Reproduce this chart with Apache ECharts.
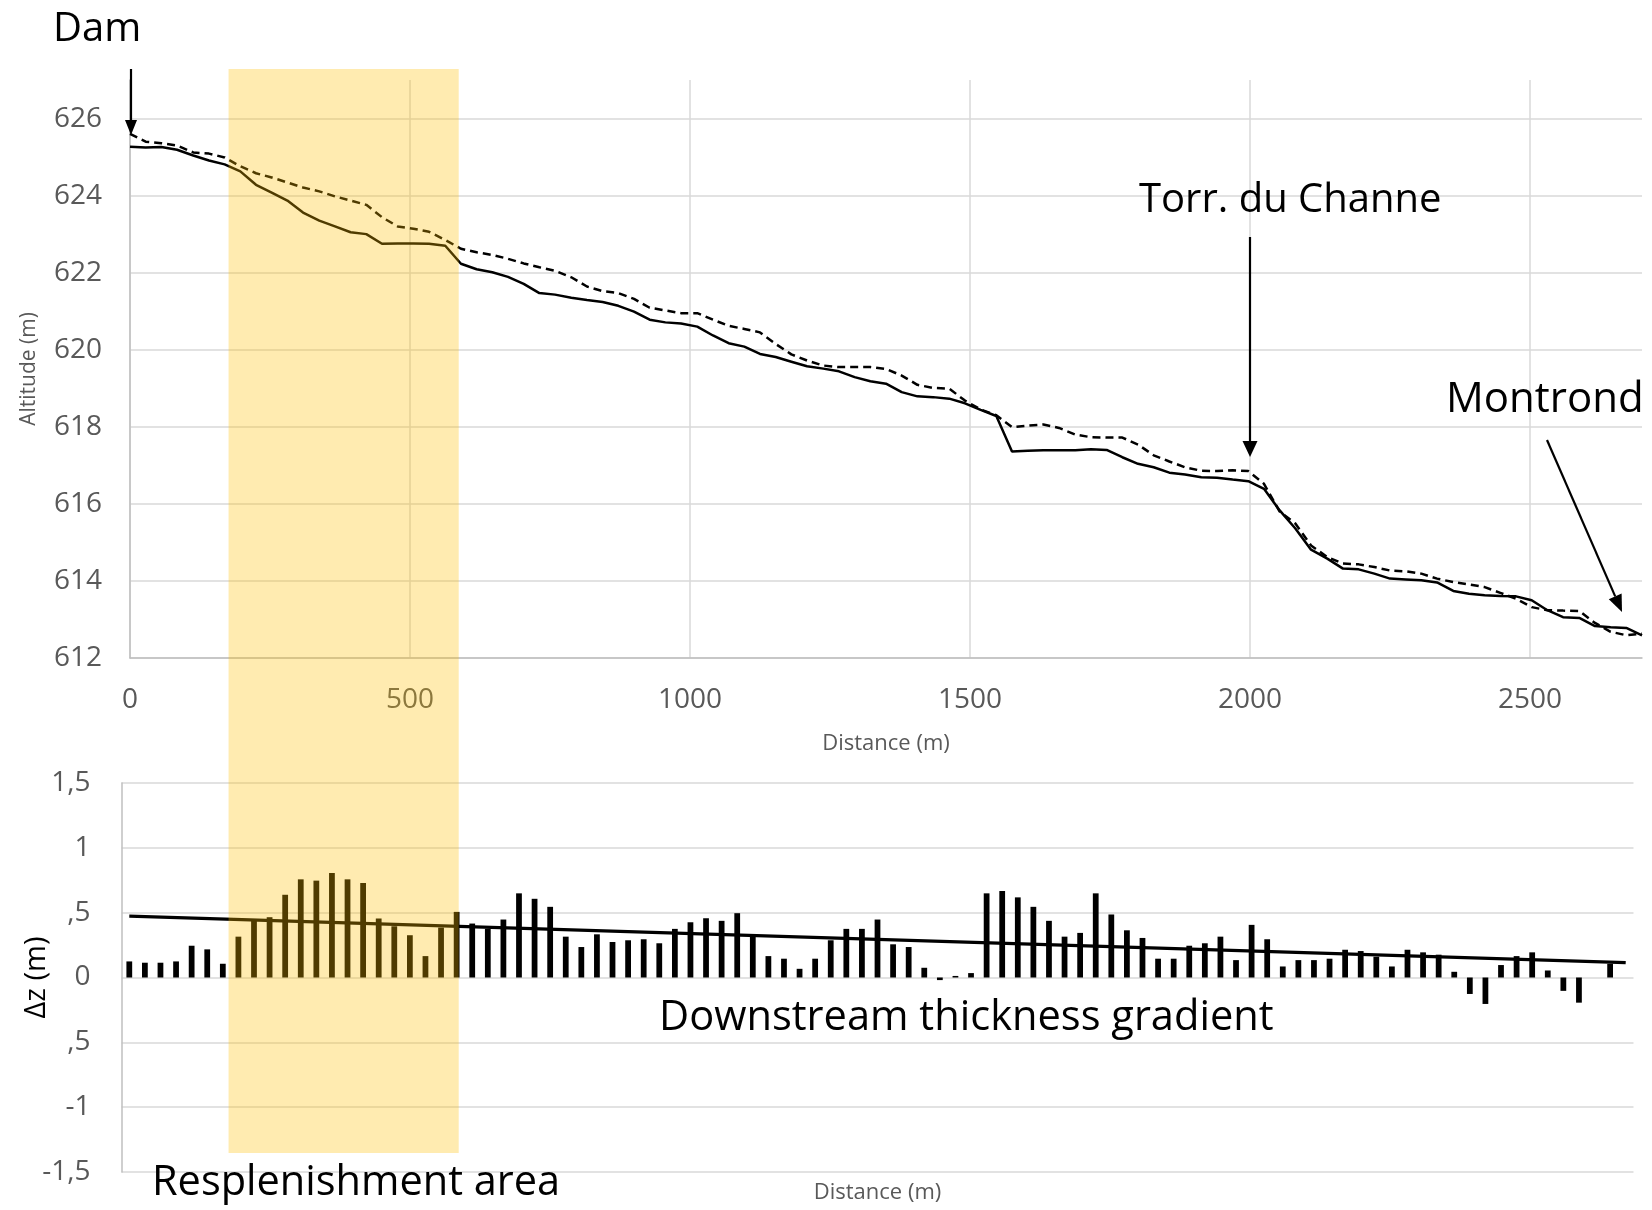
<!DOCTYPE html>
<html>
<head>
<meta charset="utf-8">
<script src="https://cdn.jsdelivr.net/npm/echarts@6/dist/echarts.min.js"></script>
<style>
  html, body { margin: 0; padding: 0; background: #fff; }
  #chart { width: 1652px; height: 1210px; }
</style>
</head>
<body>
<div id="chart"></div>
<script>
// survey stations along the reach (m)
const stations = [
  0, 28, 56, 84, 113, 141, 169, 197, 225, 253,
  281, 309, 338, 366, 394, 422, 450, 478, 506, 534,
  563, 591, 619, 647, 675, 703, 731, 759, 788, 816,
  844, 872, 900, 928, 956, 984, 1013, 1041, 1069, 1097,
  1125, 1153, 1181, 1209, 1238, 1266, 1294, 1322, 1350, 1378,
  1406, 1434, 1463, 1491, 1519, 1547, 1575, 1603, 1631, 1659,
  1688, 1716, 1744, 1772, 1800, 1828, 1856, 1884, 1913, 1941,
  1969, 1997, 2025, 2053, 2081, 2109, 2138, 2166, 2194, 2222,
  2250, 2278, 2306, 2334, 2363, 2391, 2419, 2447, 2475, 2503,
  2531, 2559, 2588, 2616, 2644, 2672, 2700
];

// bed altitude, solid line (m)
const bedSolid = [
  625.27, 625.25, 625.26, 625.19, 625.04, 624.91, 624.81, 624.63, 624.28, 624.08,
  623.87, 623.56, 623.35, 623.20, 623.05, 623.00, 622.75, 622.76, 622.76, 622.75,
  622.70, 622.23, 622.09, 622.01, 621.89, 621.71, 621.47, 621.43, 621.35, 621.29,
  621.24, 621.14, 620.99, 620.78, 620.71, 620.68, 620.60, 620.37, 620.17, 620.08,
  619.89, 619.81, 619.69, 619.57, 619.51, 619.44, 619.29, 619.18, 619.12, 618.90,
  618.79, 618.77, 618.73, 618.61, 618.44, 618.28, 617.36, 617.38, 617.39, 617.39,
  617.39, 617.42, 617.40, 617.21, 617.04, 616.95, 616.81, 616.76, 616.69, 616.68,
  616.63, 616.59, 616.39, 615.83, 615.36, 614.81, 614.58, 614.32, 614.30, 614.19,
  614.06, 614.04, 614.02, 613.96, 613.74, 613.67, 613.63, 613.61, 613.60, 613.50,
  613.24, 613.06, 613.04, 612.83, 612.80, 612.78, 612.59
];

// bed altitude, dashed line (m)
const bedDashed = [
  625.60, 625.40, 625.36, 625.30, 625.12, 625.09, 624.99, 624.76, 624.58, 624.47,
  624.34, 624.21, 624.11, 623.98, 623.87, 623.76, 623.44, 623.20, 623.14, 623.06,
  622.85, 622.62, 622.53, 622.46, 622.36, 622.24, 622.14, 622.05, 621.88, 621.64,
  621.52, 621.47, 621.32, 621.09, 621.02, 620.95, 620.95, 620.78, 620.62, 620.54,
  620.45, 620.15, 619.88, 619.72, 619.59, 619.55, 619.55, 619.55, 619.50, 619.33,
  619.09, 619.01, 618.99, 618.68, 618.45, 618.30, 617.99, 618.03, 618.06, 617.97,
  617.80, 617.73, 617.72, 617.72, 617.54, 617.26, 617.10, 616.95, 616.86, 616.85,
  616.87, 616.85, 616.52, 615.80, 615.49, 614.92, 614.62, 614.45, 614.43, 614.36,
  614.27, 614.25, 614.19, 614.06, 613.97, 613.91, 613.84, 613.69, 613.54, 613.32,
  613.24, 613.23, 613.22, 612.91, 612.68, 612.59, 612.63
];

// thickness change per station (m)
const deltaZ = [
  0.124, 0.114, 0.114, 0.124, 0.245, 0.217, 0.106, 0.315, 0.437, 0.465,
  0.638, 0.757, 0.747, 0.806, 0.757, 0.729, 0.455, 0.395, 0.326, 0.165,
  0.385, 0.506, 0.416, 0.375, 0.447, 0.649, 0.607, 0.545, 0.315, 0.235,
  0.333, 0.274, 0.287, 0.295, 0.264, 0.375, 0.426, 0.457, 0.437, 0.496,
  0.313, 0.165, 0.145, 0.067, 0.145, 0.287, 0.375, 0.375, 0.447, 0.256,
  0.235, 0.075, -0.02, 0.012, 0.034, 0.649, 0.667, 0.618, 0.545, 0.437,
  0.315, 0.344, 0.649, 0.486, 0.364, 0.305, 0.145, 0.145, 0.245, 0.264,
  0.315, 0.134, 0.406, 0.295, 0.085, 0.134, 0.134, 0.145, 0.214, 0.204,
  0.160, 0.085, 0.214, 0.194, 0.176, 0.044, -0.127, -0.204, 0.096, 0.165,
  0.194, 0.054, -0.103, -0.194, 0, 0.106, 0
];

// downstream gradient line, value at first and last station
const trendEnds = [0.473, 0.115];

// replenishment reach (m)
const bandRange = [176, 587];

const dzTickValues = [-1.5, -1, -0.5, 0, 0.5, 1, 1.5];
const dzTickLabels = ['-1,5', '-1', ',5', '0', ',5', '1', '1,5'];

const FONT = 'Open Sans';
const GRAY = '#595959';

const chart = echarts.init(document.getElementById('chart'), null, { renderer: 'canvas' });

chart.setOption({
  animation: false,
  backgroundColor: '#ffffff',
  textStyle: { fontFamily: FONT },
  grid: [
    { left: 130, top: 80, width: 1512, height: 578 },
    { left: 121.5, top: 783, width: 1512, height: 389 },
  ],
  xAxis: [{
    type: 'value', gridIndex: 0, min: 0, max: 2700, interval: 500,
    name: 'Distance (m)', nameLocation: 'middle', nameGap: 75, nameMoveOverlap: false,
    nameTextStyle: { color: GRAY, fontSize: 22, fontFamily: FONT },
    axisLine: { show: true, lineStyle: { color: '#BFBFBF', width: 1.5 } },
    axisTick: { show: false },
    axisLabel: { color: GRAY, fontSize: 28, fontFamily: FONT, margin: 28, showMaxLabel: false, formatter: v => String(v) },
    splitLine: { show: true, showMaxLine: false, lineStyle: { color: '#D9D9D9', width: 1.5 } },
  }, {
    type: 'category', gridIndex: 1, data: stations.map(String), boundaryGap: true,
    name: 'Distance (m)', nameLocation: 'middle', nameGap: 10, nameMoveOverlap: false,
    nameTextStyle: { color: GRAY, fontSize: 22, fontFamily: FONT },
    axisLine: { show: false, onZero: false },
    axisTick: { show: false },
    axisLabel: { show: false },
    splitLine: { show: false },
  }],
  yAxis: [{
    type: 'value', gridIndex: 0, min: 612, max: 627, interval: 2,
    name: 'Altitude (m)', nameLocation: 'middle', nameGap: 90, nameMoveOverlap: false,
    nameTextStyle: { color: GRAY, fontSize: 21, fontFamily: FONT },
    axisLine: { show: true, lineStyle: { color: '#BFBFBF', width: 1.5 } },
    axisTick: { show: false },
    axisLabel: { color: GRAY, fontSize: 28, fontFamily: FONT, margin: 28, showMaxLabel: false, formatter: v => String(v) },
    splitLine: { show: true, showMaxLine: false, lineStyle: { color: '#D9D9D9', width: 1.5 } },
  }, {
    type: 'value', gridIndex: 1, min: -1.5, max: 1.5, interval: 0.5,
    name: 'Δz (m)', nameLocation: 'middle', nameGap: 70, nameMoveOverlap: false,
    nameTextStyle: { color: '#000', fontSize: 29, fontFamily: FONT },
    axisLine: { show: true, lineStyle: { color: '#BFBFBF', width: 1.5 } },
    axisTick: { show: false },
    axisLabel: {
      color: GRAY, fontSize: 28, fontFamily: FONT, margin: 31,
      formatter: v => {
        const i = dzTickValues.findIndex(t => Math.abs(t - v) < 1e-6);
        return i >= 0 ? dzTickLabels[i] : '';
      },
    },
    splitLine: { show: true, lineStyle: { color: '#D9D9D9', width: 1.5 } },
  }],
  series: [{
    type: 'line', xAxisIndex: 0, yAxisIndex: 0,
    data: stations.map((d, i) => [d, bedDashed[i]]),
    symbol: 'none',
    lineStyle: { color: '#000', width: 2.5, type: [8, 5] },
    z: 3,
  }, {
    type: 'line', xAxisIndex: 0, yAxisIndex: 0,
    data: stations.map((d, i) => [d, bedSolid[i]]),
    symbol: 'none',
    lineStyle: { color: '#000', width: 2.5 },
    z: 3,
  }, {
    type: 'bar', xAxisIndex: 1, yAxisIndex: 1,
    data: deltaZ,
    barWidth: '37%',
    itemStyle: { color: '#000' },
    z: 2,
  }, {
    type: 'line', xAxisIndex: 1, yAxisIndex: 1,
    data: [[0, trendEnds[0]], [stations.length - 1, trendEnds[1]]],
    symbol: 'none',
    lineStyle: { color: '#000', width: 3.2 },
    z: 4,
  }],
});

// annotation helpers
function arrow(x1, y1, x2, y2, len, half) {
  const dx = x2 - x1, dy = y2 - y1;
  const l = Math.hypot(dx, dy);
  const ux = dx / l, uy = dy / l;
  const bx = x2 - ux * len, by = y2 - uy * len;
  return [{
    type: 'line', z: 50,
    shape: { x1, y1, x2: bx, y2: by },
    style: { stroke: '#000', lineWidth: 2.2 },
  }, {
    type: 'polygon', z: 50,
    shape: { points: [[x2, y2], [bx - uy * half, by + ux * half], [bx + uy * half, by - ux * half]] },
    style: { fill: '#000' },
  }];
}

function label(text, x, y, size) {
  return {
    type: 'text', z: 50, x, y,
    style: {
      text, fill: '#000', fontSize: size, fontFamily: FONT,
      align: 'left', verticalAlign: 'middle', textAlign: 'left', textVerticalAlign: 'middle',
    },
  };
}

const bx0 = chart.convertToPixel({ xAxisIndex: 0 }, bandRange[0]);
const bx1 = chart.convertToPixel({ xAxisIndex: 0 }, bandRange[1]);
const xDam = chart.convertToPixel({ xAxisIndex: 0 }, 0);
const xTorr = chart.convertToPixel({ xAxisIndex: 0 }, 2000);

chart.setOption({
  graphic: [
    {
      type: 'rect', z: 100,
      shape: { x: bx0, y: 69, width: bx1 - bx0, height: 1153 - 69 },
      style: { fill: 'rgba(255,192,0,0.31)' },
    },
    ...arrow(xDam + 1, 69, xDam + 1, 135, 15, 6),
    ...arrow(xTorr, 237, xTorr, 457, 16, 7.5),
    ...arrow(1547, 440, 1622, 612, 17, 7),
    label('Dam', 53, 30, 40),
    label('Torr. du Channe', 1139, 201, 40),
    label('Montrond', 1446, 400, 42),
    label('Downstream thickness gradient', 659, 1018, 41.6),
    label('Resplenishment area', 152, 1183, 41.5),
  ],
});
</script>
</body>
</html>
